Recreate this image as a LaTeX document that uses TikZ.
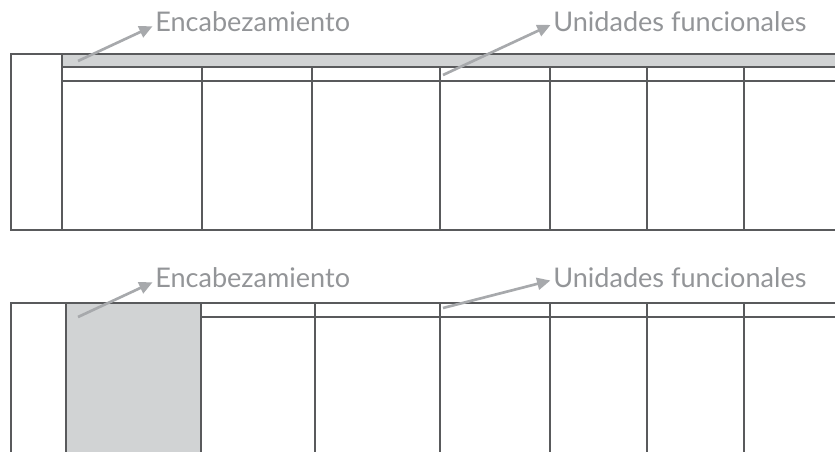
\documentclass[tikz,border=0pt]{standalone}
\usepackage{fontspec}
\setmainfont{Lato}
\usepackage{xcolor}
\usepackage{tikz}
\usetikzlibrary{arrows.meta, positioning}
\definecolor{linea}{HTML}{595A5C}
\definecolor{relleno}{HTML}{D1D3D4}
\definecolor{flecha}{HTML}{A7A9AC}
\definecolor{rotulo}{HTML}{939598}
\tikzset{
  rejilla/.style={draw=linea, line width=2pt},
  senal/.style={draw=flecha, line width=2pt,
    -{Triangle[length=10pt, width=9pt]}, shorten >=2pt},
  etiqueta/.style={font=\fontsize{20.3}{24}\selectfont, text=rotulo,
    inner sep=0pt, anchor=base west}
}
\newcommand{\columna}[3]{%
  \draw[rejilla] (#1,#2) -- (#1,#3);%
}

\begin{document}
\begin{tikzpicture}[x=0.75pt, y=-0.75pt]
        \useasboundingbox (0,0) rectangle (835,451);
        % tabla superior
        \fill[relleno] (62,54) rectangle (835,67);
        \draw[rejilla] (835,54) -- (11,54) -- (11,230) -- (835,230);
        \draw[rejilla] (62,67) -- (835,67);
        \draw[rejilla] (62,81) -- (835,81);
        \columna{62}{54}{230}
        \foreach \x in {202,312,440,550,647,744} {
          \columna{\x}{67}{230}
        }
        % tabla inferior
        \fill[relleno] (66,303) rectangle (201,452);
        \draw[rejilla] (835,303) -- (11,303) -- (11,452);
        \draw[rejilla] (201,317) -- (835,317);
        \columna{66}{303}{452}
        \foreach \x in {201,315,440,550,647,744} {
          \columna{\x}{303}{452}
        }
        % rotulos
        \node[etiqueta] (enc1) at (155,31) {Encabezamiento};
        \node[etiqueta] (uni1) at (553,31) {Unidades funcionales};
        \node[etiqueta] (enc2) at (155,287) {Encabezamiento};
        \node[etiqueta] (uni2) at (553,287) {Unidades funcionales};
        \coordinate (penc1) at (78,61);
        \coordinate (puni1) at (443,75);
        \coordinate (penc2) at (78,317);
        \coordinate (puni2) at (443,308);
        \draw[senal] (penc1) -- ([yshift=-3pt]enc1.west);
        \draw[senal] (puni1) -- ([yshift=-2pt]uni1.west);
        \draw[senal] (penc2) -- ([yshift=-3pt]enc2.west);
        \draw[senal] (puni2) -- ([yshift=-2pt]uni2.west);
\end{tikzpicture}
\end{document}
